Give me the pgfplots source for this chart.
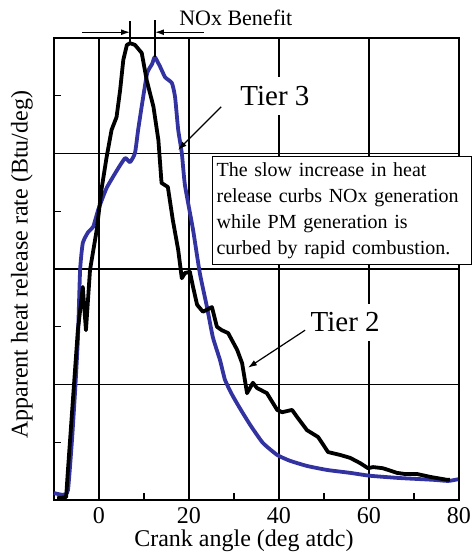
\documentclass[border=0pt]{standalone}
\usepackage{pgfplots}
\pgfplotsset{compat=1.18}
\usepackage{fontspec}
\setmainfont{Liberation Serif}
\usetikzlibrary{arrows.meta}
\definecolor{tierblue}{RGB}{50,50,160}
\begin{document}
\begin{tikzpicture}
\begin{axis}[
  scale only axis, width=405pt, height=462pt,
  xmin=-10, xmax=80, ymin=0, ymax=8,
  xtick={0,20,40,60,80}, minor xtick={10,30,50,70},
  ytick={2,4,6}, minor ytick={1,3,5,7}, yticklabels={},
  grid=major, major grid style={black, line width=1.3pt},
  axis line style={line width=1.8pt},
  tick pos=left, tick align=inside, major tick length=0pt, minor tick length=7pt,
  minor tick style={line width=1.2pt, black},
  ticklabel style={font=\fontsize{24}{24}\selectfont},
  /pgf/number format/assume math mode=true,
  xticklabel style={yshift=-4pt},
  clip=false,
]
% Tier 3 (blue)
\addplot[tierblue, line width=3.8pt, smooth, tension=0.3, line join=round] coordinates {
(-10.0,0.12) (-8.0,0.09) (-6.9,0.17) (-6.0,1.04) (-5.3,1.90) (-4.7,2.77) (-4.2,3.98)
(-3.6,4.45) (-2.4,4.64) (-1.3,4.73) (-0.2,5.02) (0.9,5.25) (1.8,5.42) (4.0,5.71)
(5.8,5.92) (6.9,5.85) (8.0,6.01) (8.7,6.41) (9.6,6.87) (10.7,7.39) (11.8,7.55)
(12.4,7.67) (13.6,7.50) (14.7,7.32) (16.2,7.22) (16.9,6.98) (17.6,6.41) (18.4,6.01)
(19.1,5.45) (20.9,4.68) (22.4,3.93) (24.0,3.34) (25.3,2.82) (26.9,2.42) (28.0,2.08)
(29.6,1.82) (31.3,1.59) (33.6,1.30) (36.4,0.99) (39.6,0.78) (42.4,0.68) (46.2,0.59)
(50.7,0.52) (55.8,0.47) (60.2,0.42) (66.9,0.38) (74.2,0.35) (77.6,0.33) (79.8,0.36)
};
% Tier 2 (black)
\addplot[black, line width=3.8pt, line join=round] coordinates {
(-9.3,0.03) (-7.3,0.05) (-6.9,0.52) (-5.8,1.73) (-4.7,2.94) (-3.6,3.69) (-2.9,2.94)
(-2.0,3.98) (-0.5,4.68) (0.6,5.40) (1.7,5.94) (2.8,6.41) (3.9,6.63) (4.7,7.10)
(5.4,7.62) (6.2,7.88) (6.9,7.91) (8.0,7.88) (9.5,7.74) (10.6,7.27) (12.1,6.81)
(13.2,6.23) (13.9,5.49) (14.7,5.45) (15.3,5.42) (16.4,4.85) (17.6,4.33) (18.4,3.84)
(19.1,3.93) (20.2,3.95) (20.9,3.69) (21.8,3.38) (23.1,3.26) (25.1,3.34) (26.2,3.00)
(27.3,2.94) (28.7,2.89) (30.7,2.60) (31.8,2.37) (32.9,1.85) (34.2,2.03) (35.1,1.94)
(37.3,1.85) (39.6,1.56) (40.7,1.52) (42.9,1.56) (44.0,1.44) (46.2,1.21) (48.7,1.09)
(50.9,0.83) (53.6,0.78) (55.8,0.73) (58.0,0.64) (59.8,0.55) (60.9,0.57) (63.1,0.55)
(66.2,0.47) (68.0,0.45) (70.7,0.45) (73.6,0.40) (77.3,0.35) (78.0,0.35)
};
% NOx benefit annotation
\draw[line width=1.2pt] (axis cs:6.9,8.29) -- (axis cs:6.9,7.91);
\draw[line width=1.2pt] (axis cs:12.44,8.31) -- (axis cs:12.44,7.67);
\draw[line width=1.2pt,-{Latex[length=9pt,width=6pt]}] (axis cs:-3.8,8.10) -- (axis cs:6.9,8.10);
\draw[line width=1.2pt,-{Latex[length=9pt,width=6pt]}] (axis cs:23.3,8.10) -- (axis cs:12.44,8.10);
\node[anchor=base, font=\fontsize{22}{22}\selectfont, inner sep=0pt] at (axis cs:30.4,8.225) {NOx Benefit};
% Tier 3 label
\node[anchor=base, fill=white, inner xsep=2pt, inner ysep=9pt, font=\fontsize{29}{29}\selectfont] at (axis cs:39.1,6.83) {Tier 3};
\draw[line width=1.2pt,-{Latex[length=9pt,width=6pt]}] (axis cs:27.16,6.81) -- (axis cs:17.56,6.06);
% Tier 2 label
\node[anchor=base, fill=white, inner xsep=2pt, inner ysep=9pt, font=\fontsize{29}{29}\selectfont] at (axis cs:54.7,2.91) {Tier 2};
\draw[line width=1.2pt,-{Latex[length=9pt,width=6pt]}] (axis cs:45.8,2.94) -- (axis cs:33.1,2.29);
% Text box
\node[anchor=north west, draw=black, line width=1.3pt, fill=white, inner xsep=4pt, inner ysep=6pt,
      text width=251pt, align=left, font=\fontsize{20}{26}\selectfont] at (axis cs:25.1,5.96)
      {The slow increase in heat\\ release curbs NOx generation\\ while PM generation is\\ curbed by rapid combustion.};
% axis labels
\node[rotate=90, font=\fontsize{24}{24}\selectfont] at (axis description cs:-0.079,0.509) {Apparent heat release rate (Btu/deg)};
\node[anchor=base, font=\fontsize{24}{24}\selectfont] at (axis description cs:0.469,-0.0996) {Crank angle (deg atdc)};
\end{axis}
\pgfresetboundingbox
\path[use as bounding box] (-54pt,-55pt) rectangle (421pt,500pt);
\end{tikzpicture}
\end{document}
